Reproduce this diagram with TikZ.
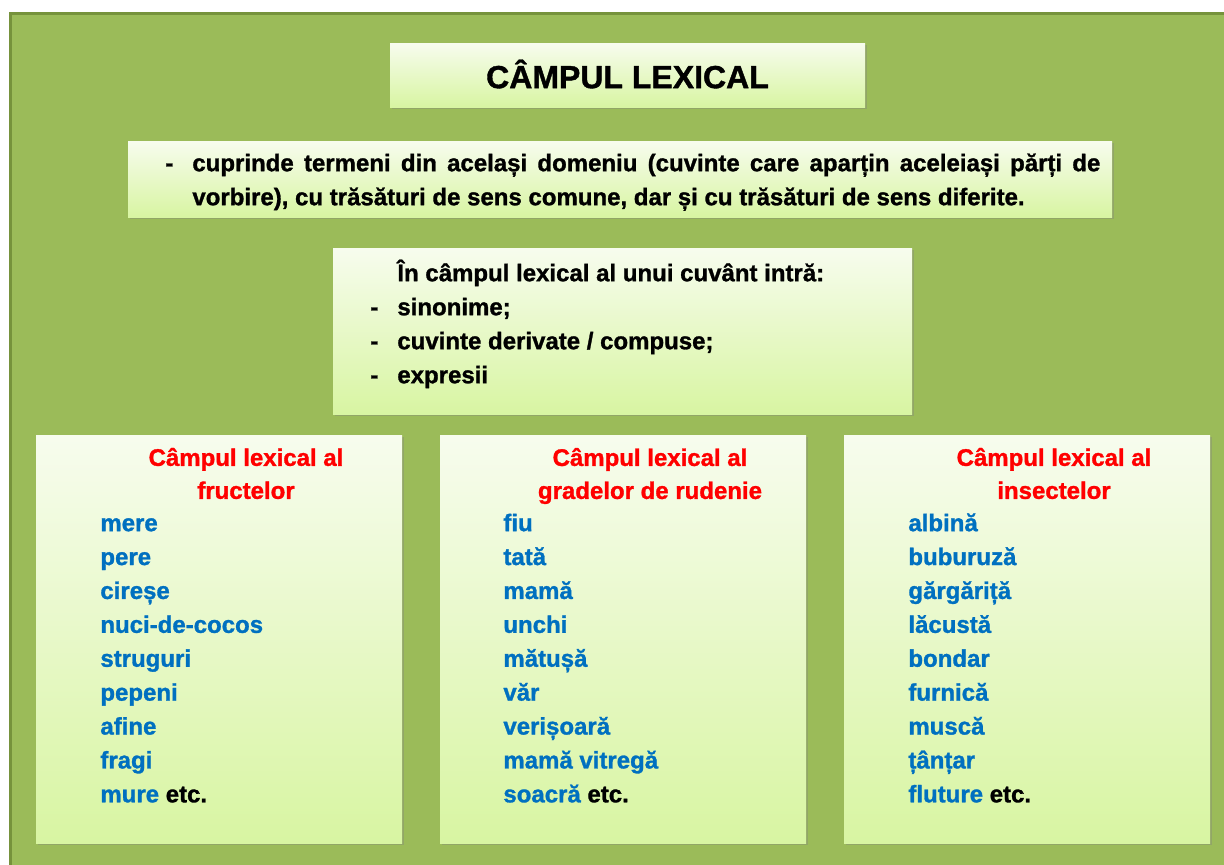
\documentclass[tikz,border=0pt]{standalone}
\usepackage{fontspec}
\setmainfont{Liberation Sans}[BoldFeatures={FakeBold=1.2}]
\usetikzlibrary{shadows}
\definecolor{fondverde}{RGB}{155,187,89}
\definecolor{chenar}{RGB}{118,146,60}
\definecolor{panousus}{RGB}{247,252,238}
\definecolor{panoujos}{RGB}{216,245,162}
\definecolor{albastru}{RGB}{0,112,192}
\definecolor{rosu}{RGB}{255,0,0}
\tikzset{
	panou/.style={rectangle, inner sep=0pt, top color=panousus, bottom color=panoujos,
		drop shadow={shadow xshift=0.8pt, shadow yshift=-1.2pt, opacity=0.35}},
	titlu/.style={font=\bfseries\fontsize{16}{19}\selectfont, inner sep=0pt},
	textnegru/.style={font=\bfseries\fontsize{12}{17}\selectfont, inner sep=0pt, anchor=north west},
	antet/.style={font=\bfseries\fontsize{12}{16.5}\selectfont, text=rosu, align=center, inner sep=0pt},
	lista/.style={font=\bfseries\fontsize{12}{16.95}\selectfont, text=albastru, inner sep=0pt, anchor=north west, align=left},
}

\begin{document}
\begin{tikzpicture}[x=0.5pt, y=-0.5pt]
				\useasboundingbox (0,0) rectangle (1224,864);
				\fill[white] (0,0) rectangle (1224,864);
				\draw[fill=fondverde, draw=chenar, line width=1.5pt] (10,13) rectangle (1240,880);
				% casetele
				\node[panou, minimum width=237.5pt, minimum height=32pt] (titlu) at (627.5,75) {};
				\node[panou, minimum width=492pt, minimum height=38pt] (definitie) at (620,179) {};
				\node[panou, minimum width=289.5pt, minimum height=83pt] (cuprins) at (622.5,331) {};
				\node[panou, minimum width=183pt, minimum height=204pt] (fructe) at (219,639) {};
				\node[panou, minimum width=183pt, minimum height=204pt] (rude) at (623,639) {};
				\node[panou, minimum width=183pt, minimum height=204pt] (insecte) at (1027,639) {};
				% textele
				\node[titlu] (titlutext) at (627.5,74) {CÂMPUL LEXICAL};
				\node[textnegru, text width=454pt, align=justify] (deftext) at (192,147) {\strut\llap{\makebox[13.5pt][l]{-}}cuprinde termeni din același domeniu (cuvinte care aparțin aceleiași părți de\linebreak vorbire), cu trăsături de sens comune, dar și cu trăsături de sens diferite.};
				\node[textnegru, align=left] (cuprinstext) at (370,257) {\strut\makebox[13.5pt][l]{}În câmpul lexical al unui cuvânt intră:\\\makebox[13.5pt][l]{-}sinonime;\\\makebox[13.5pt][l]{-}cuvinte derivate / compuse;\\\makebox[13.5pt][l]{-}expresii};
				\node[antet] (antetfructe) at (246,473.5) {Câmpul lexical al\\fructelor};
				\node[antet] (antetrude) at (650,476) {Câmpul lexical al\\gradelor de rudenie};
				\node[antet] (antetinsecte) at (1054,473.5) {Câmpul lexical al\\insectelor};
				\node[lista] (listafructe) at (100,507) {\strut mere\\pere\\cireșe\\nuci-de-cocos\\struguri\\pepeni\\afine\\fragi\\mure \textcolor{black}{etc.}};
				\node[lista] (listarude) at (503,507) {\strut fiu\\tată\\mamă\\unchi\\mătușă\\văr\\verișoară\\mamă vitregă\\soacră \textcolor{black}{etc.}};
				\node[lista] (listainsecte) at (908,507) {\strut albină\\buburuză\\gărgăriță\\lăcustă\\bondar\\furnică\\muscă\\țânțar\\fluture \textcolor{black}{etc.}};
			\end{tikzpicture}
\end{document}
